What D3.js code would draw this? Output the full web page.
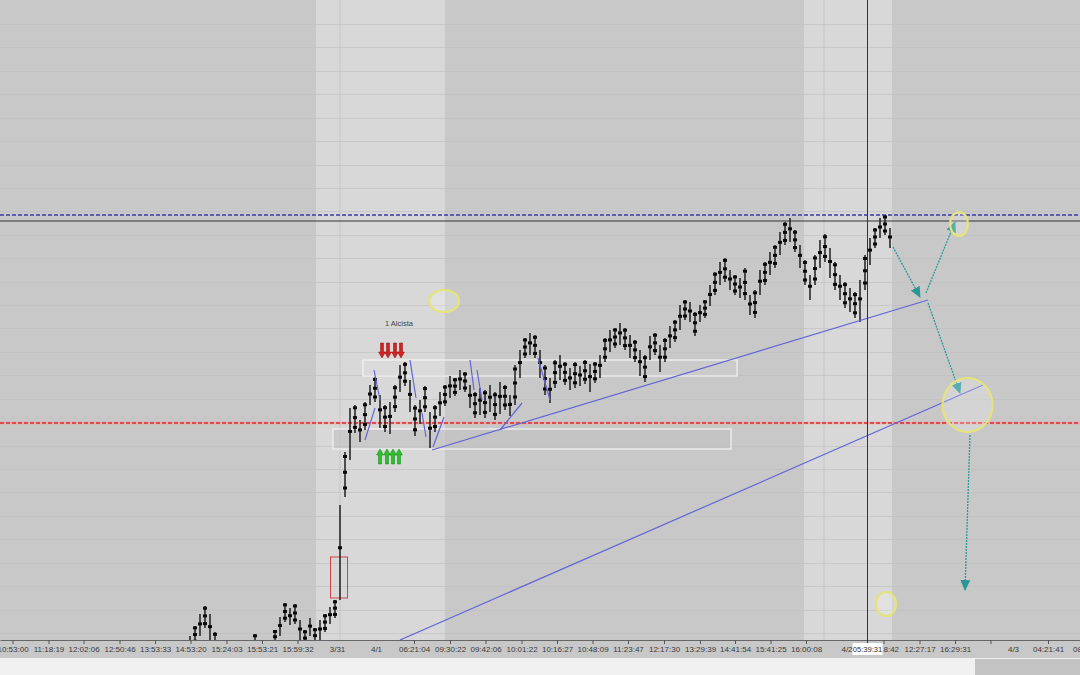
<!DOCTYPE html>
<html lang="en">
<head>
	<meta charset="utf-8"/>
	<title>Chart</title>
	<script src="https://d3js.org/d3.v7.min.js"></script>
	<style>
		body { margin: 0; background: #f1f1f1; }
		svg { display: block; font-family: "Liberation Sans", Arial, sans-serif; }
		.axis .domain { stroke: #666; }
		.axis line { stroke: #555; }
		.axis text { fill: #3a3a3a; font-size: 8px; }
	</style>
</head>
<body>
<div id="chart"></div>

<script>
	// price bars, one every bar index (0 = first bar drawn)
	var barHigh = [1364,1374,1386,1394,1386,1368,1355,1350,1345,1340,1344,1350,1356,1366,1355,1352,1360,1370,1383,1397,
		1392,1396,1380,1370,1382,1372,1380,1386,1393,1400,1495,1548,1592,1595,1580,1598,1615,1623,1605,1595,
		1598,1615,1635,1638,1620,1595,1600,1614,1588,1595,1608,1615,1624,1622,1630,1628,1615,1608,1612,1610,
		1615,1608,1618,1615,1605,1635,1650,1662,1667,1665,1650,1635,1622,1640,1645,1638,1632,1638,1634,1640,
		1636,1638,1645,1662,1670,1672,1677,1672,1665,1660,1650,1645,1664,1667,1655,1662,1674,1680,1695,1700,
		1698,1688,1695,1700,1715,1728,1738,1742,1730,1725,1722,1732,1705,1710,1730,1738,1748,1755,1768,1778,
		1782,1770,1755,1740,1725,1745,1760,1766,1752,1738,1725,1718,1712,1708,1720,1745,1762,1772,1782,1785,1772];
	var barLow = [1345,1355,1364,1372,1358,1345,1335,1332,1328,1320,1325,1330,1338,1348,1340,1336,1344,1355,1364,1378,
		1375,1376,1360,1352,1364,1355,1360,1368,1376,1382,1400,1503,1540,1567,1558,1570,1595,1598,1572,1568,
		1566,1588,1608,1614,1588,1564,1576,1588,1552,1568,1584,1594,1602,1604,1610,1608,1592,1582,1585,1582,
		1588,1580,1586,1590,1584,1595,1622,1642,1645,1642,1622,1605,1597,1612,1620,1615,1610,1612,1614,1616,
		1608,1617,1622,1638,1648,1652,1655,1650,1642,1638,1624,1618,1640,1645,1628,1638,1652,1658,1670,1680,
		1678,1664,1678,1682,1694,1705,1715,1718,1710,1705,1702,1700,1685,1682,1705,1715,1725,1732,1745,1755,
		1758,1748,1732,1715,1700,1715,1732,1738,1722,1710,1700,1692,1688,1682,1678,1710,1735,1752,1762,1765,1752];

	// time axis (positions in bar units)
	var tickBars = [-35.5,-28.3,-21.3,-14.1,-7,0.1,7.3,14.4,21.5,29.4,37.2,44.8,52,59.1,66.3,73.4,80.5,87.6,94.8,102,
		109,116.1,123.2,131.3,138.7,145.9,153,160.1,164.6,171.6,179.6];
	var tickLabels = ["10:53:00","11:18:19","12:02:06","12:50:46","13:53:33","14:53:20","15:24:03","15:53:21","15:59:32","3/31",
		"4/1","06:21:04","09:30:22","09:42:06","10:01:22","10:16:27","10:48:09","11:23:47","12:17:30","13:29:39",
		"14:41:54","15:41:25","16:00:08","4/2","8:42","12:27:17","16:29:31","","4/3","04:21:41","08:36:05"];
	var dateLabels = ["3/31","4/1","4/2","4/3"];

	// sessions (lighter background), horizontal levels, zones
	var sessions = [[25.2, 51], [122.8, 140.4]];
	var sessionLines = [30, 126.8];
	var crossBar = 135.5, crossLabel = "05:39:31";
	var levelBlue = 1785, levelBlack = 1779, levelRed = 1577;
	var zoneUpper = [34.6, 109.4, 1624, 1640];
	var zoneLower = [28.6, 108.2, 1551, 1571];
	var candleBox = [28.1, 31.5, 1402, 1443];

	// trend lines [bar0, price0, bar1, price1]
	var trendLines = [[48.4, 1550, 147.6, 1700], [42, 1360, 158.6, 1615]];
	var swingLines = [[35, 1560, 37, 1592], [36.8, 1630, 38, 1600], [44, 1640, 45.2, 1602], [46.4, 1587, 47.2, 1563],
		[48.6, 1553, 50.8, 1583], [56, 1640, 56.8, 1610], [57.4, 1630, 58.4, 1600], [62, 1570, 66.4, 1597],
		[69.6, 1642, 72, 1600]];
	var projArrows = [[140.6, 1753, 146, 1703], [147.2, 1707, 153, 1778], [147.6, 1697, 154, 1607], [156, 1565, 155, 1410]];
	// highlight ellipses [bar, price, rx, ry]
	var rings = [[50.8, 1699, 15, 11], [153.8, 1776, 9, 12], [155.5, 1595, 25, 27], [139.2, 1396, 10, 12]];
	var sellMarks = [38.4, 39.6, 41, 42.2], sellTop = 1657, sellBottom = 1642;
	var buyMarks = [38, 39.4, 40.6, 41.8], buyTop = 1551, buyBottom = 1536;
	var note = {bar: 41.8, price: 1677, text: "1 Alcista"};

	var width = 1080,
		height = 675,
		plotH = 640;

	var x = d3.scaleLinear().domain([-38, 178]).range([0, width]);
	var y = d3.scaleLinear().domain([1360, 2000]).range([plotH, 0]);

	var svg = d3.select("#chart").append("svg")
		.attr("width", width)
		.attr("height", height);

	var defs = svg.append("defs");
	defs.append("clipPath").attr("id", "plot")
		.append("rect").attr("width", width).attr("height", plotH);
	defs.append("marker")
		.attr("id", "head")
		.attr("markerUnits", "userSpaceOnUse")
		.attr("markerWidth", 12).attr("markerHeight", 10)
		.attr("refX", 10).attr("refY", 5)
		.attr("orient", "auto")
		.append("path").attr("d", "M0,0 L11,5 L0,10 Z").attr("fill", "#2a9696");
	defs.append("filter").attr("id", "soft")
		.append("feGaussianBlur").attr("stdDeviation", 0.7);

	// background
	svg.append("rect").attr("width", width).attr("height", 658).attr("fill", "#c8c8c8");
	svg.append("rect").attr("x", 975).attr("y", 659).attr("width", 105).attr("height", 16).attr("fill", "#c3c3c3");

	var plot = svg.append("g").attr("clip-path", "url(#plot)");

	plot.selectAll(".session")
		.data(sessions)
		.enter().append("rect")
		.attr("x", function(d) { return x(d[0]); })
		.attr("width", function(d) { return x(d[1]) - x(d[0]); })
		.attr("height", plotH)
		.attr("fill", "#d8d8d8");

	plot.selectAll(".sline")
		.data(sessionLines)
		.enter().append("line")
		.attr("x1", function(d) { return x(d); })
		.attr("x2", function(d) { return x(d); })
		.attr("y2", plotH)
		.attr("stroke", "#c6c6c6");

	// grid
	plot.selectAll(".grid")
		.data(d3.range(1976, 1360, -23.42))
		.enter().append("line")
		.attr("x2", width)
		.attr("y1", function(d) { return Math.round(y(d)) + 0.5; })
		.attr("y2", function(d) { return Math.round(y(d)) + 0.5; })
		.attr("stroke", "#bdbdbd")
		.attr("stroke-opacity", 0.55);

	// zones
	plot.append("rect")
		.attr("x", x(zoneLower[0])).attr("width", x(zoneLower[1]) - x(zoneLower[0]))
		.attr("y", y(zoneLower[3])).attr("height", y(zoneLower[2]) - y(zoneLower[3]))
		.attr("fill", "#c2c2c2").attr("fill-opacity", 0.6)
		.attr("stroke", "#f4f4f4").attr("stroke-width", 1.2);
	plot.append("rect")
		.attr("x", x(zoneUpper[0])).attr("width", x(zoneUpper[1]) - x(zoneUpper[0]))
		.attr("y", y(zoneUpper[3])).attr("height", y(zoneUpper[2]) - y(zoneUpper[3]))
		.attr("fill", "#ffffff").attr("fill-opacity", 0.06)
		.attr("stroke", "#f4f4f4").attr("stroke-width", 1.2);
	plot.append("rect")
		.attr("x", x(candleBox[0])).attr("width", x(candleBox[1]) - x(candleBox[0]))
		.attr("y", y(candleBox[3])).attr("height", y(candleBox[2]) - y(candleBox[3]))
		.attr("fill", "none").attr("stroke", "#cc4444").attr("stroke-width", 1);

	// levels
	plot.append("line").attr("x2", width).attr("y1", y(levelBlack)).attr("y2", y(levelBlack))
		.attr("stroke", "#333").attr("stroke-width", 1);
	plot.append("line").attr("x2", width).attr("y1", y(levelBlue)).attr("y2", y(levelBlue))
		.attr("stroke", "#3a3aa8").attr("stroke-width", 1.6).attr("stroke-dasharray", "4,2");
	plot.append("line").attr("x2", width).attr("y1", y(levelRed)).attr("y2", y(levelRed))
		.attr("stroke", "#f2a0a0").attr("stroke-width", 3).attr("stroke-opacity", 0.5);
	plot.append("line").attr("x2", width).attr("y1", y(levelRed)).attr("y2", y(levelRed))
		.attr("stroke", "#e02828").attr("stroke-width", 1.5).attr("stroke-dasharray", "4,2");

	// bars
	var bars = plot.append("g").selectAll("g")
		.data(barHigh.map(function(h, i) { return {i: i, hi: h, lo: barLow[i]}; }))
		.enter().append("g");

	bars.append("line")
		.attr("x1", function(d) { return x(d.i); })
		.attr("x2", function(d) { return x(d.i); })
		.attr("y1", function(d) { return y(d.hi); })
		.attr("y2", function(d) { return y(d.lo); })
		.attr("stroke", "#2a2a2a")
		.attr("stroke-width", 1.6);

	// small bodies along each bar
	[0.1, 0.45, 0.8].forEach(function(f, k) {
		bars.append("rect")
			.attr("x", function(d) { return x(d.i) - 2; })
			.attr("y", function(d) { return y(d.hi) + (y(d.lo) - y(d.hi)) * f - 1.5; })
			.attr("width", 4)
			.attr("height", 3)
			.attr("fill", "#0a0a0a")
			.attr("opacity", function(d) { return k === 1 || (d.i + k) % 2 ? 1 : 0; });
	});

	// trend lines
	plot.selectAll(".trend")
		.data(trendLines.concat(swingLines))
		.enter().append("line")
		.attr("x1", function(d) { return x(d[0]); })
		.attr("y1", function(d) { return y(d[1]); })
		.attr("x2", function(d) { return x(d[2]); })
		.attr("y2", function(d) { return y(d[3]); })
		.attr("stroke", "#6464d8")
		.attr("stroke-width", 1.2);

	// crosshair
	plot.append("line")
		.attr("x1", x(crossBar)).attr("x2", x(crossBar))
		.attr("y2", plotH)
		.attr("stroke", "#333").attr("stroke-width", 1);

	// projection arrows
	plot.selectAll(".proj")
		.data(projArrows)
		.enter().append("line")
		.attr("x1", function(d) { return x(d[0]); })
		.attr("y1", function(d) { return y(d[1]); })
		.attr("x2", function(d) { return x(d[2]); })
		.attr("y2", function(d) { return y(d[3]); })
		.attr("stroke", "#2f9a9a")
		.attr("stroke-width", 1.3)
		.attr("stroke-dasharray", "2,1")
		.attr("marker-end", "url(#head)");

	// rings
	plot.selectAll(".ring")
		.data(rings)
		.enter().append("ellipse")
		.attr("cx", function(d) { return x(d[0]); })
		.attr("cy", function(d) { return y(d[1]); })
		.attr("rx", function(d) { return d[2]; })
		.attr("ry", function(d) { return d[3]; })
		.attr("fill", "#ffffff").attr("fill-opacity", 0.22)
		.attr("stroke", "#e4e47a").attr("stroke-width", 2.2)
		.attr("filter", "url(#soft)");

	// signal arrows
	function arrow(cx, top, bottom, dir) {
		var headLen = 6, s = 1.5, hw = 3.4;
		if (dir > 0) {
			return "M" + (cx - s) + "," + top + "L" + (cx + s) + "," + top + "L" + (cx + s) + "," + (bottom - headLen) +
				"L" + (cx + hw) + "," + (bottom - headLen) + "L" + cx + "," + bottom + "L" + (cx - hw) + "," + (bottom - headLen) +
				"L" + (cx - s) + "," + (bottom - headLen) + "Z";
		}
		return "M" + (cx - s) + "," + bottom + "L" + (cx + s) + "," + bottom + "L" + (cx + s) + "," + (top + headLen) +
			"L" + (cx + hw) + "," + (top + headLen) + "L" + cx + "," + top + "L" + (cx - hw) + "," + (top + headLen) +
			"L" + (cx - s) + "," + (top + headLen) + "Z";
	}

	plot.selectAll(".sell")
		.data(sellMarks)
		.enter().append("path")
		.attr("d", function(d) { return arrow(x(d), y(sellTop), y(sellBottom), 1); })
		.attr("fill", "#d42222").attr("stroke", "#8c1010").attr("stroke-width", 0.5);

	plot.selectAll(".buy")
		.data(buyMarks)
		.enter().append("path")
		.attr("d", function(d) { return arrow(x(d), y(buyTop), y(buyBottom), -1); })
		.attr("fill", "#2cc02c").attr("stroke", "#138013").attr("stroke-width", 0.5);

	plot.append("text")
		.attr("x", x(note.bar)).attr("y", y(note.price) + 3)
		.attr("text-anchor", "middle")
		.attr("font-size", 7.5)
		.attr("fill", "#444")
		.text(note.text);

	// time axis
	var axis = svg.append("g")
		.attr("class", "axis")
		.attr("transform", "translate(0," + plotH + ")")
		.call(d3.axisBottom(x)
			.tickValues(tickBars)
			.tickSize(4)
			.tickSizeOuter(0)
			.tickPadding(2)
			.tickFormat(function(d, i) { return tickLabels[i]; }));

	// date labels carry no tick mark
	axis.selectAll(".tick line")
		.attr("opacity", function(d, i) { return dateLabels.indexOf(tickLabels[i]) >= 0 ? 0 : 1; });

	// the label next to the crosshair box is partly hidden, show its tail only
	axis.selectAll(".tick text")
		.filter(function(d, i) { return tickLabels[i] === "8:42"; })
		.attr("text-anchor", "start")
		.attr("dx", -0.5);

	// crosshair time label
	var cl = svg.append("g").attr("transform", "translate(" + x(crossBar) + "," + (plotH + 3) + ")");
	cl.append("rect").attr("x", -15).attr("width", 30).attr("height", 12).attr("fill", "#fff");
	cl.append("text").attr("y", 9).attr("text-anchor", "middle").attr("font-size", 7.6).attr("fill", "#333").text(crossLabel);
	svg.append("line")
		.attr("x1", x(crossBar)).attr("x2", x(crossBar))
		.attr("y1", plotH).attr("y2", plotH + 3)
		.attr("stroke", "#333");
</script>
</body>
</html>
